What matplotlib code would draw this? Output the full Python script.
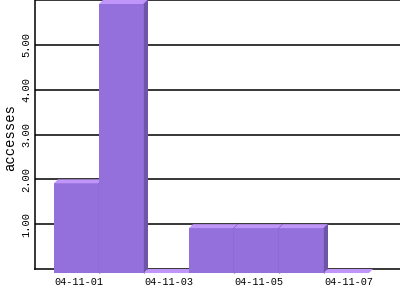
import matplotlib
matplotlib.use('Agg')
import matplotlib.pyplot as plt
from matplotlib.patches import Polygon

days = ['04-11-01', '04-11-02', '04-11-03', '04-11-04', '04-11-05', '04-11-06', '04-11-07']
accesses = [2, 6, 0, 1, 1, 1, 0]
ytick_vals = [1, 2, 3, 4, 5]
ytick_labels = ['1.00', '2.00', '3.00', '4.00', '5.00']

front_col = '#9370db'
top_col = '#c095fa'
side_col = '#6f55a8'
d = 4 / 45.0  # depth of the fake 3d, in data units (~4px)

plt.rcParams['font.family'] = ['Liberation Mono', 'DejaVu Sans Mono']

fig = plt.figure(figsize=(4, 3), dpi=100)
ax = fig.add_axes([35 / 400, 1 - 269 / 300, 365 / 400, 269 / 300])

for i, v in enumerate(accesses):
    x0 = i - 0.5
    # side face
    ax.add_patch(Polygon([(x0 + 1, -d), (x0 + 1 + d, 0), (x0 + 1 + d, v), (x0 + 1, v - d)],
                         closed=True, fc=side_col, ec='none', zorder=3 + i, clip_on=False))
    # front face
    ax.add_patch(Polygon([(x0, -d), (x0 + 1, -d), (x0 + 1, v - d), (x0, v - d)],
                         closed=True, fc=front_col, ec='none', zorder=3 + i, clip_on=False))
    # top face
    ax.add_patch(Polygon([(x0, v - d), (x0 + 1, v - d), (x0 + 1 + d, v), (x0 + d, v)],
                         closed=True, fc=top_col, ec='none', zorder=3 + i, clip_on=False))
    if v > 0:
        ax.plot([x0 + 1, x0 + 1], [-d, v - d], color=side_col, lw=0.9, zorder=3 + i,
                clip_on=False, solid_capstyle='butt')
        ax.plot([x0 + 1, x0 + 1 + d], [v - d, v], color=side_col, lw=0.7, zorder=3 + i,
                clip_on=False)

ax.set_xlim(-0.5 - 19 / 45, -0.5 + 346 / 45)
ax.set_ylim(0, 6)

for g in range(1, 7):
    ax.axhline(g, color='black', lw=1.1, zorder=1)

for s in ['top', 'right']:
    ax.spines[s].set_visible(False)
ax.spines['left'].set_linewidth(1.1)
ax.spines['bottom'].set_linewidth(1.1)
ax.spines['bottom'].set_zorder(1)

ax.set_xticks([i + 0.05 for i in range(0, len(days), 2)])
ax.set_xticklabels(days[::2], fontsize=7.3)
ax.set_yticks(ytick_vals)
ax.set_yticklabels(ytick_labels, fontsize=7.5, rotation=90, va='center')
ax.tick_params(axis='x', length=0, pad=6)
ax.tick_params(axis='y', length=0, pad=2.5)

ax.set_ylabel('accesses', fontsize=10)
ax.yaxis.set_label_coords(-18 / 365, 0.49)

fig.savefig('out.png', dpi=100)
